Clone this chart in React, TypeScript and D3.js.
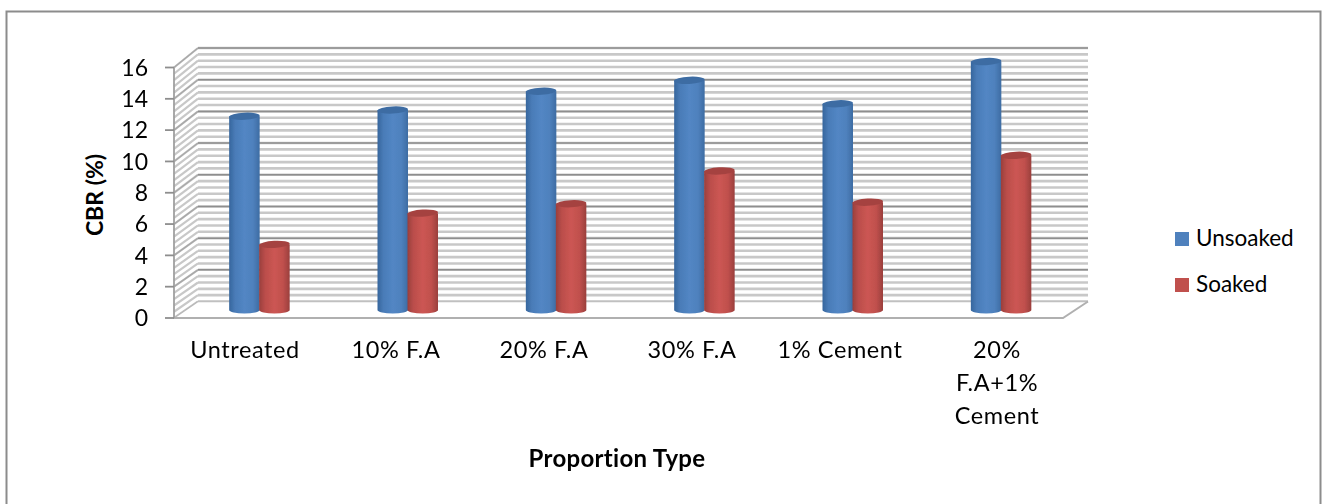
import React from "react";
import * as d3 from "d3";

const categories = ["Untreated", "10% F.A", "20% F.A", "30% F.A", "1% Cement", "20% F.A+1% Cement"];
const categoryLines = [["Untreated"], ["10% F.A"], ["20% F.A"], ["30% F.A"], ["1% Cement"], ["20%", "F.A+1%", "Cement"]];
const unsoaked = [12.4, 12.8, 14.0, 14.7, 13.2, 15.9];
const soaked = [4.2, 6.2, 6.8, 8.9, 6.9, 9.9];
const yTicks = [0, 2, 4, 6, 8, 10, 12, 14, 16];
const minorTicks = d3.range(0, 16.01, 0.4);
const seriesNames = ["Unsoaked", "Soaked"];
const seriesColors = ["#4f81bd", "#c0504d"];
const labelCentres = [245, 396, 544, 692, 840, 997];

const FONT = "Lato, 'Noto Sans', sans-serif";

// Projection of the 3D box: front plane and back wall of the chart.
const front = { left: 174, right: 1063, bottom: 318, top: 67.5 };
const back = { left: 198, right: 1088, bottom: 301.5, top: 48 };

const yFront = d3.scaleLinear().domain([0, 16]).range([front.bottom, front.top]);
const yBack = d3.scaleLinear().domain([0, 16]).range([back.bottom, back.top]);
const yBar = d3.scaleLinear().domain([0, 16]).range([310, 60]);

const xGroup = d3.scaleBand<number>().domain(d3.range(categories.length)).range([185, 1075]);
const barWidth = 30.5;

function Cylinder({ x, value, series }: { x: number; value: number; series: number }) {
  const top = yBar(value);
  const base = yBar(0);
  const rx = barWidth / 2;
  const cx = x + rx;
  const body = `M${x},${top} L${x},${base} A${rx},3.5 0 0 0 ${x + barWidth},${base} L${x + barWidth},${top} Z`;
  return (
    <g>
      <path d={body} fill={`url(#bar-${series})`} />
      <ellipse cx={cx} cy={top} rx={rx} ry={3.6} fill={series === 0 ? "#3d6ca3" : "#a54341"} transform={`rotate(-3 ${cx} ${top})`} />
    </g>
  );
}

export default function App() {
  const shades = [
    ["#36669d", "#4a7cb8", "#5286c4", "#4f81bd", "#3d6ca3"],
    ["#9a3f3c", "#bb4e4b", "#cc5653", "#c0504d", "#9a3f3c"],
  ];
  return (
    <svg width={1323} height={504} style={{ position: "absolute", left: 0, top: 0, background: "#fff" }} fontFamily={FONT}>
      <defs>
        {shades.map((s, i) => (
          <linearGradient id={`bar-${i}`} key={i} x1="0" x2="1" y1="0" y2="0">
            {s.map((c, j) => (
              <stop key={j} offset={[0, 0.2, 0.5, 0.78, 1][j]} stopColor={c} />
            ))}
          </linearGradient>
        ))}
        <filter id="soft" x="-5%" y="-5%" width="110%" height="110%">
          <feGaussianBlur stdDeviation="0.7" />
        </filter>
      </defs>

      <rect x={6.5} y={11.5} width={1314} height={510} fill="#fff" stroke="#8c8c8c" strokeWidth={2} />

      <g filter="url(#soft)">
        {/* Minor gridlines on the side and back walls */}
        {minorTicks.map((t) => (
          <g key={t}>
            <line x1={front.left} x2={back.left} y1={yFront(t)} y2={yBack(t)} stroke="#c8c8c8" strokeWidth={2.2} />
            <line x1={back.left} x2={back.right} y1={yBack(t)} y2={yBack(t)} stroke="#c8c8c8" strokeWidth={2.6} />
          </g>
        ))}
        {/* Major gridlines */}
        {yTicks.filter((t) => t > 0).map((t) => (
          <g key={t}>
            <line x1={front.left} x2={back.left} y1={yFront(t)} y2={yBack(t)} stroke="#a8a8a8" strokeWidth={1.4} />
            <line x1={back.left} x2={back.right} y1={yBack(t)} y2={yBack(t)} stroke="#8e8e8e" strokeWidth={1.5} />
          </g>
        ))}
        {/* Floor of the box */}
        <polygon
          points={`${front.left},${front.bottom} ${back.left},${back.bottom} ${back.right},${back.bottom} ${front.right},${front.bottom}`}
          fill="#fff"
        />
        <line x1={back.left} x2={back.right} y1={back.bottom} y2={back.bottom} stroke="#c0c0c0" strokeWidth={1.6} />
        <line x1={front.left} x2={back.left} y1={front.bottom} y2={back.bottom} stroke="#b8b8b8" strokeWidth={1.5} />
        <polyline
          points={`${front.left - 1},${front.bottom} ${front.right},${front.bottom} ${back.right},${back.bottom}`}
          fill="none"
          stroke="#b0b0b0"
          strokeWidth={2}
        />
        {/* Value axis and tick marks */}
        <line x1={front.left} x2={front.left} y1={front.top} y2={front.bottom} stroke="#a0a0a0" strokeWidth={1.8} />
        {yTicks.map((t) => (
          <line key={t} x1={front.left - 9} x2={front.left} y1={yFront(t)} y2={yFront(t)} stroke="#8e8e8e" strokeWidth={1.8} />
        ))}
      </g>

      <g filter="url(#soft)">
        {categories.map((_, i) => {
          const x0 = (xGroup(i) as number) + xGroup.bandwidth() / 2 - barWidth + 0.5;
          return (
            <g key={i}>
              <Cylinder x={x0} value={unsoaked[i]} series={0} />
              <Cylinder x={x0 + barWidth - 0.5} value={soaked[i]} series={1} />
            </g>
          );
        })}
      </g>

      {yTicks.map((t) => (
        <text key={t} x={148} y={yFront(t)} dy="0.36em" textAnchor="end" fontSize={23} fill="#000">
          {t}
        </text>
      ))}

      {categoryLines.map((lines, i) => (
        <text key={i} textAnchor="middle" fontSize={23.5} letterSpacing={0.6} fill="#000">
          {lines.map((l, j) => (
            <tspan key={j} x={labelCentres[i]} y={358 + j * 33}>
              {l}
            </tspan>
          ))}
        </text>
      ))}

      <text x={617} y={467} textAnchor="middle" fontSize={24} fontWeight={700} letterSpacing={0.3} fill="#000">
        Proportion Type
      </text>
      <text transform="translate(103,195) rotate(-90)" textAnchor="middle" fontSize={23} fontWeight={700} fill="#000">
        CBR (%)
      </text>

      {seriesNames.map((name, i) => (
        <g key={name}>
          <rect x={1175} y={232 + i * 46} width={14} height={14} fill={seriesColors[i]} />
          <text x={1196} y={246 + i * 46} fontSize={22.5} fill="#000">
            {name}
          </text>
        </g>
      ))}
    </svg>
  );
}
